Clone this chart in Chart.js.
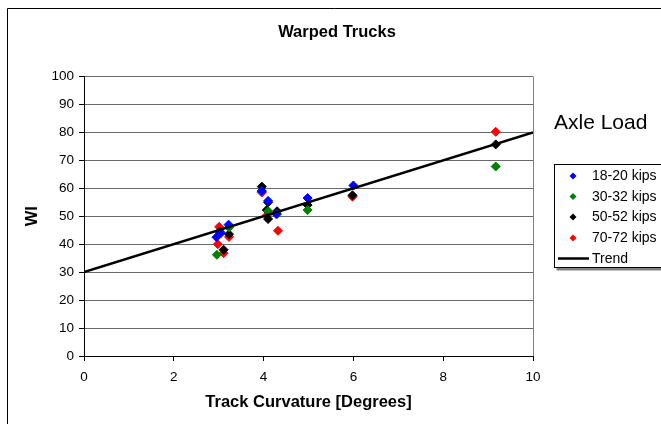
<!DOCTYPE html>
<html>
<head>
<meta charset="utf-8">
<script src="https://cdn.jsdelivr.net/npm/chart.js@4"></script>
<style>
  html, body { margin: 0; padding: 0; background: #fff; }
  #wrap { position: relative; width: 661px; height: 424px; }
  canvas { display: block; }
</style>
</head>
<body>
<div id="wrap"><canvas id="c" width="661" height="424"></canvas></div>
<script>
const chartTitle = "Warped Trucks";
const xTitle = "Track Curvature [Degrees]";
const yTitle = "WI";
const legendTitle = "Axle Load";

const seriesNames = ["18-20 kips", "30-32 kips", "50-52 kips", "70-72 kips"];
const seriesColors = ["#0000ff", "#008000", "#000000", "#ff0000"];

const blueX  = [2.95, 3.05, 3.22, 3.96, 4.10, 4.28, 4.98, 6.00];
const blueY  = [42.5, 44.0, 47.0, 59.0, 55.5, 50.8, 56.5, 61.0];
const greenX = [2.96, 3.23, 3.96, 4.10, 4.30, 4.98, 9.17];
const greenY = [36.2, 46.0, 59.0, 51.8, 50.8, 52.2, 67.8];
const blackX = [3.02, 3.11, 3.23, 3.96, 4.07, 4.10, 4.10, 4.30, 4.98, 5.98, 9.17];
const blackY = [44.5, 38.0, 43.6, 60.6, 52.2, 55.0, 49.0, 51.8, 54.0, 57.5, 75.7];
const redX   = [3.01, 2.98, 3.11, 3.23, 3.96, 4.07, 4.32, 5.98, 9.17];
const redY   = [46.2, 40.0, 36.8, 42.6, 58.5, 50.3, 44.8, 57.0, 80.2];

const trendX = [0, 10];
const trendY = [30, 80];

const xTicks = [0, 2, 4, 6, 8, 10];
const yTicks = [0, 10, 20, 30, 40, 50, 60, 70, 80, 90, 100];

const FONT = 'Arial, "Liberation Sans", sans-serif';

function pts(xs, ys) { return xs.map((x, i) => ({ x: x, y: ys[i] })); }

const seriesX = [blueX, greenX, blackX, redX];
const seriesY = [blueY, greenY, blackY, redY];

const datasets = seriesNames.map((name, i) => ({
  type: 'scatter',
  label: name,
  data: pts(seriesX[i], seriesY[i]),
  backgroundColor: seriesColors[i],
  borderColor: seriesColors[i],
  pointStyle: 'rectRot',
  pointRadius: 4.5,
  pointBorderWidth: 1,
  yAxisID: 'y',
  order: 2
}));
datasets.push({
  type: 'line',
  label: 'Trend',
  data: pts(trendX, trendY),
  borderColor: '#000',
  borderWidth: 2.5,
  pointRadius: 0,
  fill: false,
  yAxisID: 'y',
  order: 1
});

const framePlugin = {
  id: 'frame',
  beforeDraw(chart) {
    const ctx = chart.ctx;
    ctx.save();
    ctx.fillStyle = '#fff';
    ctx.fillRect(0, 0, chart.width, chart.height);
    ctx.strokeStyle = '#000';
    ctx.lineWidth = 1;
    ctx.beginPath();
    ctx.moveTo(7.5, 430);
    ctx.lineTo(7.5, 8.5);
    ctx.lineTo(670, 8.5);
    ctx.stroke();
    ctx.restore();
  },
  afterDraw(chart) {
    const ctx = chart.ctx;
    ctx.save();
    ctx.fillStyle = '#000';
    ctx.font = '21px ' + FONT;
    ctx.textBaseline = 'middle';
    ctx.textAlign = 'left';
    ctx.fillText(legendTitle, 554, 123);
    const bx = 554.5, by = 164.5, bw = 120, bh = 103;
    ctx.fillStyle = '#808080';
    ctx.fillRect(bx + 2, by + 2, bw, bh + 1);
    ctx.fillStyle = '#fff';
    ctx.fillRect(bx, by, bw, bh);
    ctx.strokeStyle = '#000';
    ctx.lineWidth = 1;
    ctx.strokeRect(bx, by, bw, bh);
    const rows = [176, 196.5, 217, 238, 258.5];
    ctx.font = '14px ' + FONT;
    chart.data.datasets.forEach((ds, i) => {
      const y = rows[i];
      if (ds.type === 'line') {
        ctx.strokeStyle = ds.borderColor;
        ctx.lineWidth = 2.5;
        ctx.beginPath();
        ctx.moveTo(558, y);
        ctx.lineTo(589, y);
        ctx.stroke();
      } else {
        ctx.fillStyle = ds.backgroundColor;
        ctx.beginPath();
        ctx.moveTo(573, y - 3.5);
        ctx.lineTo(576.5, y);
        ctx.lineTo(573, y + 3.5);
        ctx.lineTo(569.5, y);
        ctx.closePath();
        ctx.fill();
      }
      ctx.fillStyle = '#000';
      ctx.fillText(ds.label, 592, y + 0.5);
    });
    ctx.restore();
  }
};

new Chart(document.getElementById('c'), {
  data: { datasets: datasets },
  options: {
    responsive: false,
    animation: false,
    devicePixelRatio: 1,
    layout: { padding: { left: 13, right: 0, top: 0, bottom: 0 } },
    plugins: {
      legend: { display: false },
      tooltip: { enabled: false },
      title: {
        display: true,
        text: chartTitle,
        color: '#000',
        font: { family: FONT, size: 16.5, weight: 'bold', lineHeight: 1.2 },
        padding: { top: 22.5, bottom: 34.2 }
      }
    },
    scales: {
      x: {
        type: 'linear',
        min: 0, max: 10,
        afterFit(s) { s.height = 68; },
        afterBuildTicks(s) { s.ticks = xTicks.map(v => ({ value: v })); },
        ticks: {
          color: '#000',
          font: { family: FONT, size: 13.5 },
          padding: 8,
          maxRotation: 0
        },
        grid: {
          drawOnChartArea: true,
          color: (c) => (c.tick && c.tick.value === 10) ? '#808080' : 'rgba(0,0,0,0)',
          tickColor: '#000',
          tickLength: 5,
          lineWidth: 1
        },
        border: { display: true, color: '#000', width: 1 },
        title: {
          display: true,
          text: xTitle,
          color: '#000',
          font: { family: FONT, size: 16.5, weight: 'bold', lineHeight: 1.2 },
          padding: { top: 0, bottom: 12 }
        }
      },
      y: {
        type: 'linear',
        position: 'left',
        min: 0, max: 100,
        afterFit(s) { s.width = 71; },
        afterBuildTicks(s) { s.ticks = yTicks.map(v => ({ value: v })); },
        ticks: {
          color: '#000',
          font: { family: FONT, size: 13.5 },
          padding: 5
        },
        grid: {
          color: '#6a6a6a',
          tickColor: '#000',
          tickLength: 5,
          lineWidth: 1
        },
        border: { display: true, color: '#000', width: 1 },
        title: {
          display: true,
          text: yTitle,
          color: '#000',
          font: { family: FONT, size: 16.5, weight: 'bold', lineHeight: 1.2 },
          padding: { top: 10, bottom: 0 }
        }
      },
      ySide: {
        type: 'linear',
        position: 'right',
        min: 0, max: 100,
        display: true,
        afterFit(s) { s.width = 128; },
        ticks: { display: false },
        grid: { display: false, drawOnChartArea: false, drawTicks: false },
        border: { display: false },
        title: { display: false }
      }
    }
  },
  plugins: [framePlugin]
});
</script>
</body>
</html>
